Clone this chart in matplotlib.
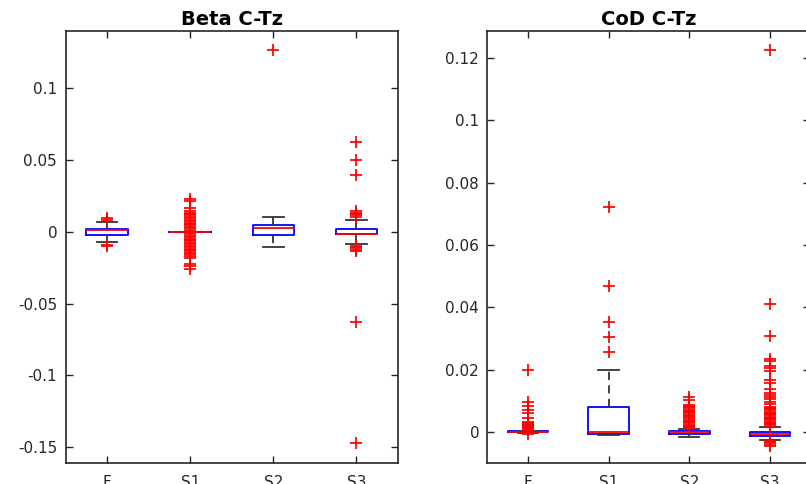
import matplotlib
matplotlib.use('Agg')
import matplotlib.pyplot as plt

plt.rcParams['font.family'] = ['DejaVu Sans']
plt.rcParams['axes.unicode_minus'] = False

groups = ['F', 'S1', 'S2', 'S3']
positions = [1, 2, 3, 4]

# Beta C-Tz box statistics
beta_q1 = [-0.0021, 0.0, -0.0023, -0.0016]
beta_med = [0.0012, 0.0, 0.0030, -0.0012]
beta_q3 = [0.0023, 0.0, 0.0047, 0.0023]
beta_whislo = [-0.0070, 0.0, -0.0105, -0.0082]
beta_whishi = [0.0070, 0.0, 0.0107, 0.0082]
beta_fliers = [
    [0.0085, 0.0095, -0.0088, -0.0097],
    [0.0228, 0.0212, 0.0170, 0.0147, 0.0135, 0.0125, 0.0115, 0.0105, 0.0095,
     0.0085, 0.0075, 0.0065, 0.0055, 0.0045, 0.0035, 0.0025, 0.0015,
     -0.0016, -0.0026, -0.0036, -0.0046, -0.0056, -0.0066, -0.0076, -0.0086,
     -0.0096, -0.0106, -0.0116, -0.0126, -0.0136, -0.0146, -0.0156, -0.0166,
     -0.0180, -0.0221, -0.0237, -0.0260],
    [0.1264],
    [0.0624, 0.0500, 0.0398, 0.0147, 0.0135, 0.0125, 0.0115, 0.0105,
     -0.0095, -0.0105, -0.0115, -0.0125, -0.0135, -0.0628, -0.1473],
]
beta_yticks = [-0.15, -0.1, -0.05, 0, 0.05, 0.1]
beta_yticklabels = ['-0.15', '-0.1', '-0.05', '0', '0.05', '0.1']

# CoD C-Tz box statistics
cod_q1 = [-0.0001, -0.0007, -0.0006, -0.0012]
cod_med = [0.0, -0.0001, 0.0, -0.0006]
cod_q3 = [0.0002, 0.0081, 0.0002, 0.0001]
cod_whislo = [-0.0003, -0.0010, -0.0015, -0.0026]
cod_whishi = [0.0004, 0.0199, 0.0009, 0.0015]
cod_fliers = [
    [0.0199, 0.0097, 0.0084, 0.0070, 0.0060, 0.0046, 0.0033, 0.0030, 0.0027,
     0.0024, 0.0021, 0.0018, 0.0015, 0.0012, 0.0009, 0.0006, -0.0007],
    [0.0723, 0.0469, 0.0352, 0.0305, 0.0256],
    [0.0113, 0.0102, 0.0087, 0.0083, 0.0079, 0.0075, 0.0071, 0.0067, 0.0063,
     0.0059, 0.0055, 0.0051, 0.0047, 0.0043, 0.0039, 0.0035, 0.0031, 0.0027,
     0.0023, 0.0019, 0.0015, 0.0011],
    [0.1226, 0.0410, 0.0309, 0.0234, 0.0226, 0.0212, 0.0205, 0.0194, 0.0167,
     0.0158, 0.0137, 0.0125, 0.0118, 0.0111, 0.0104, 0.0097, 0.0090, 0.0081,
     0.0077, 0.0073, 0.0069, 0.0065, 0.0061, 0.0057, 0.0053, 0.0049, 0.0045,
     0.0041, 0.0037, 0.0033, 0.0029, 0.0025, 0.0021, 0.0017,
     -0.0029, -0.0033, -0.0037, -0.0041, -0.0044],
]
cod_yticks = [0, 0.02, 0.04, 0.06, 0.08, 0.1, 0.12]
cod_yticklabels = ['0', '0.02', '0.04', '0.06', '0.08', '0.1', '0.12']

AXIS_COLOR = '#262626'


def make_stats(q1, med, q3, lo, hi, fliers):
    return [dict(q1=a, med=b, q3=c, whislo=d, whishi=e, fliers=f)
            for a, b, c, d, e, f in zip(q1, med, q3, lo, hi, fliers)]


def draw_panel(ax, stats, title, yticks, yticklabels, ylim):
    ax.bxp(stats, positions=positions, widths=0.5, capwidths=0.25,
           boxprops=dict(color='blue', linewidth=1.3),
           medianprops=dict(color='red', linewidth=1.3),
           whiskerprops=dict(color='#333333', linewidth=1.3,
                             linestyle=(0, (4.5, 3))),
           capprops=dict(color='#333333', linewidth=1.3),
           flierprops=dict(marker='+', markeredgecolor='red', markersize=8.5,
                           markeredgewidth=1.25, linestyle='none'))
    ax.set_xlim(0.5, 4.5)
    ax.set_ylim(*ylim)
    ax.set_xticks(positions)
    ax.set_xticklabels(groups)
    ax.set_yticks(yticks)
    ax.set_yticklabels(yticklabels)
    ax.tick_params(direction='in', top=True, right=True, length=5, width=1,
                   colors=AXIS_COLOR, labelsize=11)
    ax.tick_params(axis='x', pad=9)
    ax.tick_params(axis='y', pad=6)
    for sp in ax.spines.values():
        sp.set_color(AXIS_COLOR)
        sp.set_linewidth(1.2)
    ax.set_title(title, fontsize=14, fontweight='bold', pad=4)


fig = plt.figure(figsize=(8.06, 4.84), dpi=100)
ax1 = fig.add_axes([0.0813, 0.0434, 0.4125, 0.8926])
ax2 = fig.add_axes([0.6048, 0.0434, 0.4007, 0.8926])

draw_panel(ax1, make_stats(beta_q1, beta_med, beta_q3, beta_whislo,
                           beta_whishi, beta_fliers),
           'Beta C-Tz', beta_yticks, beta_yticklabels, (-0.161, 0.14))
draw_panel(ax2, make_stats(cod_q1, cod_med, cod_q3, cod_whislo,
                           cod_whishi, cod_fliers),
           'CoD C-Tz', cod_yticks, cod_yticklabels, (-0.01, 0.1287))

fig.savefig('out.png', dpi=100)
